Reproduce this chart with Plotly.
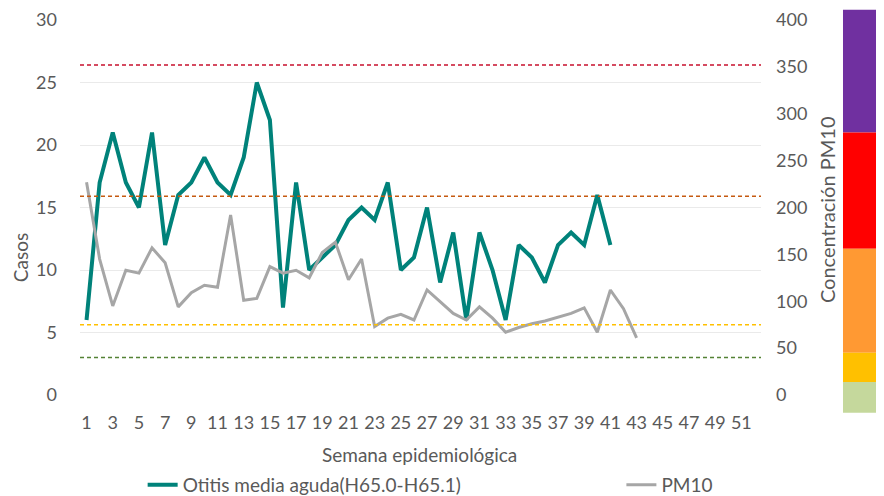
import plotly.graph_objects as go

# ---- data ----
weeks_cases = list(range(1, 42))
otitis_cases = [6, 17, 21, 17, 15, 21, 12, 16, 17, 19, 17, 16, 19, 25, 22, 7, 17, 10, 11, 12,
                14, 15, 14, 17, 10, 11, 15, 9, 13, 6, 13, 10, 6, 12, 11, 9, 12, 13, 12, 16, 12]
weeks_pm10 = list(range(1, 44))
pm10_conc = [227, 145, 95, 133, 130, 157, 141, 94, 109, 117, 115, 192, 101, 103, 137, 130, 133,
             125, 152, 163, 123, 145, 73, 82, 86, 80, 112, 99, 87, 80, 94, 82, 67, 72, 76, 79,
             83, 87, 93, 67, 112, 92, 61]
x_tick_vals = list(range(1, 52, 2))
x_tick_text = [str(v) for v in x_tick_vals]

# reference lines on PM10 axis
ref_values = [352, 212, 75, 40]
ref_colors = ["#C8102E", "#C55A11", "#FFC000", "#548235"]

# colour scale bands on PM10 axis (lower, upper)
band_limits = [(280, 411), (156, 280), (45, 156), (14, 45), (-19, 14)]
band_colors = ["#7030A0", "#FF0000", "#FF9933", "#FFC000", "#C5D89C"]

FONT = "Lato"
GRAY = "#595959"
FS = 18

fig = go.Figure()
fig.add_trace(go.Scatter(x=weeks_cases, y=otitis_cases, mode="lines",
                         name="Otitis media aguda(H65.0-H65.1)", legend="legend",
                         line=dict(color="#00827A", width=4)))
fig.add_trace(go.Scatter(x=weeks_pm10, y=pm10_conc, mode="lines", name="PM10",
                         yaxis="y2", legend="legend2", line=dict(color="#A6A6A6", width=3)))

shapes = []
for v, c in zip(ref_values, ref_colors):
    shapes.append(dict(type="line", xref="paper", yref="paper", x0=0, x1=1,
                       y0=v / 400, y1=v / 400,
                       line=dict(color=c, width=1.5, dash="4px,3px")))
for (lo, hi), c in zip(band_limits, band_colors):
    shapes.append(dict(type="rect", xref="paper", yref="paper", x0=1.1204, x1=1.19,
                       y0=lo / 400, y1=hi / 400, fillcolor=c, line=dict(width=0), layer="above"))

legend_common = dict(orientation="h", yanchor="middle", xanchor="left",
                     font=dict(size=19, color=GRAY), bgcolor="rgba(0,0,0,0)")

fig.update_layout(
    width=884, height=496,
    margin=dict(l=72, r=131, t=12, b=109, autoexpand=False),
    paper_bgcolor="white", plot_bgcolor="white",
    font=dict(family=FONT, color=GRAY, size=FS),
    shapes=shapes,
    showlegend=True,
    legend=dict(x=0.092, y=-0.24, **legend_common),
    legend2=dict(x=0.795, y=-0.24, **legend_common),
    xaxis=dict(range=[0.5, 52.5], tickvals=x_tick_vals, ticktext=x_tick_text,
               showgrid=False, zeroline=False, showline=False, ticks="",
               ticklabelstandoff=15, tickfont=dict(size=FS, color=GRAY)),
    yaxis=dict(range=[0, 30], dtick=5, showgrid=True, gridcolor="#EAEAEA", gridwidth=1,
               zeroline=False, showline=False, ticks="", ticklabelstandoff=22,
               tickfont=dict(size=FS, color=GRAY)),
    yaxis2=dict(range=[0, 400], dtick=50, overlaying="y", side="right", showgrid=False,
                zeroline=False, showline=False, ticks="", ticklabelstandoff=14,
                tickfont=dict(size=FS, color=GRAY)),
    annotations=[
        dict(text="Semana epidemiológica", xref="paper", yref="paper", x=0.499, y=-0.16,
             showarrow=False, font=dict(size=19, color=GRAY), xanchor="center", yanchor="middle"),
        dict(text="Casos", xref="paper", yref="paper", x=-0.088, y=0.365, textangle=-90,
             showarrow=False, font=dict(size=19, color=GRAY), xanchor="center", yanchor="middle"),
        dict(text="Concentración PM10", xref="paper", yref="paper", x=1.098, y=0.495,
             textangle=-90, showarrow=False, font=dict(size=20, color=GRAY),
             xanchor="center", yanchor="middle"),
    ],
)

fig.write_html("out.html")
